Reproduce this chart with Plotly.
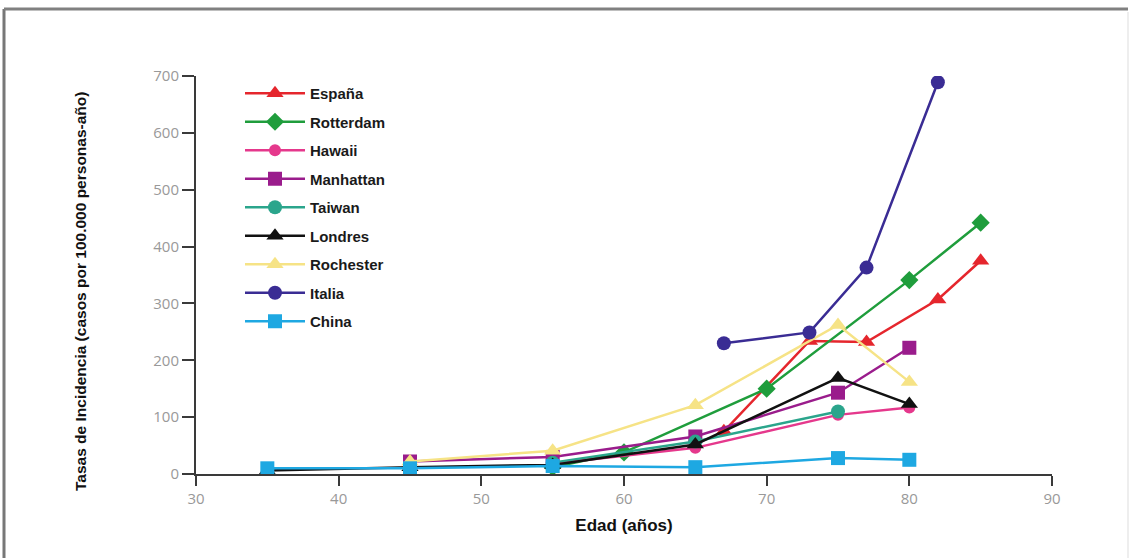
import plotly.graph_objects as go

# ---- data ----
espana_x = [67, 73, 77, 82, 85]
espana_y = [75, 234, 232, 307, 375]

rotterdam_x = [55, 60, 70, 80, 85]
rotterdam_y = [12, 38, 150, 341, 442]

hawaii_x = [55, 65, 75, 80]
hawaii_y = [18, 46, 104, 117]

manhattan_x = [45, 55, 65, 75, 80]
manhattan_y = [22, 30, 66, 143, 222]

taiwan_x = [55, 65, 75]
taiwan_y = [20, 57, 110]

londres_x = [35, 45, 55, 65, 75, 80]
londres_y = [6, 12, 16, 52, 169, 123]

rochester_x = [45, 55, 65, 75, 80]
rochester_y = [22, 41, 121, 262, 162]

italia_x = [67, 73, 77, 82]
italia_y = [230, 249, 363, 689]

china_x = [35, 45, 55, 65, 75, 80]
china_y = [10, 10, 14, 12, 28, 25]

x_ticks = [30, 40, 50, 60, 70, 80, 90]
y_ticks = [0, 100, 200, 300, 400, 500, 600, 700]

y_title = "Tasas de Incidencia (casos por 100.000 personas-año)"
x_title = "Edad (años)"

series = [
    ("España", espana_x, espana_y, "#e5262d", "triangle-up", 15),
    ("Rotterdam", rotterdam_x, rotterdam_y, "#1f9d3c", "diamond", 14),
    ("Hawaii", hawaii_x, hawaii_y, "#e5388c", "circle", 12),
    ("Manhattan", manhattan_x, manhattan_y, "#9a1c8c", "square", 14),
    ("Taiwan", taiwan_x, taiwan_y, "#2ba58c", "circle", 14),
    ("Londres", londres_x, londres_y, "#111111", "triangle-up", 15),
    ("Rochester", rochester_x, rochester_y, "#f6e386", "triangle-up", 15),
    ("Italia", italia_x, italia_y, "#3a2c94", "circle", 14),
    ("China", china_x, china_y, "#1ea8e2", "square", 14),
]

fig = go.Figure()
for i, (name, xs, ys, col, sym, sz) in enumerate(series):
    fig.add_trace(go.Scatter(
        x=xs, y=ys, name=name, mode="lines+markers",
        line=dict(color=col, width=2.5),
        marker=dict(color=col, symbol=sym, size=sz),
        legendgroup=f"g{i}",
    ))

W, H = 1132, 558
L, R, T, B = 196, 80, 76, 84
pw, ph = W - L - R, H - T - B

def px(p):
    return (p - L) / pw

def py(q):
    return (H - B - q) / ph

shapes = [
    dict(type="line", xref="paper", yref="paper", x0=px(4), x1=px(4), y0=py(9), y1=py(558),
         line=dict(color="#777777", width=3)),
    dict(type="line", xref="paper", yref="paper", x0=px(4), x1=px(1128), y0=py(9), y1=py(9),
         line=dict(color="#808080", width=3)),
    dict(type="line", xref="paper", yref="paper", x0=px(1128), x1=px(1128), y0=py(12), y1=py(558),
         line=dict(color="#eeeeee", width=2)),
]

annotations = [
    dict(text=y_title, xref="paper", yref="paper", x=px(80), y=py(292),
         xanchor="center", yanchor="middle", textangle=-90, showarrow=False,
         font=dict(family="Liberation Sans, Arial, sans-serif", size=15.5, color="#111111", weight="bold")),
]

tick_font = dict(family="Open Sans, Arial, sans-serif", size=15, color="#999999")

fig.update_layout(
    width=W, height=H,
    margin=dict(l=L, r=R, t=T, b=B),
    paper_bgcolor="white", plot_bgcolor="white",
    showlegend=True,
    legend=dict(
        x=px(240), y=py(77), xanchor="left", yanchor="top",
        font=dict(family="Liberation Sans, Arial, sans-serif", size=15, color="#1a1a1a", weight="bold"),
        bgcolor="rgba(0,0,0,0)", traceorder="grouped", tracegroupgap=6,
        itemwidth=60,
    ),
    shapes=shapes,
    annotations=annotations,
    xaxis=dict(
        range=[30, 90], tickvals=x_ticks, ticktext=[str(v) for v in x_ticks],
        showgrid=False, zeroline=False, showline=True, linecolor="#3a3a3a", linewidth=2,
        ticks="outside", ticklen=10, tickwidth=2, tickcolor="#3a3a3a",
        tickfont=tick_font,
        title=dict(text=x_title, standoff=12,
                   font=dict(family="Liberation Sans, Arial, sans-serif", size=17, color="#111111", weight="bold")),
    ),
    yaxis=dict(
        range=[0, 700], tickvals=y_ticks, ticktext=[str(v) for v in y_ticks],
        showgrid=False, zeroline=False, showline=True, linecolor="#3a3a3a", linewidth=2,
        ticks="outside", ticklen=12, tickwidth=2, tickcolor="#3a3a3a",
        tickfont=tick_font,
    ),
)

fig.write_html("out.html")
